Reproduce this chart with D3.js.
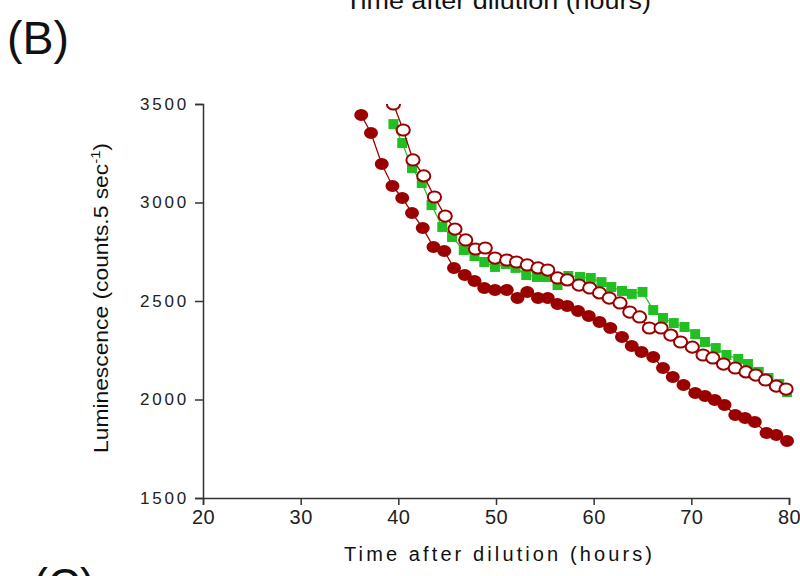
<!DOCTYPE html>
<html>
<head>
    <title>Luminescence after dilution</title>
    <style>
        body {
            margin: 0;
            background-color: white;
            font-family: "Liberation Sans", Arial, sans-serif;
        }
        .axis path, .axis line {
            stroke: #333;
            stroke-width: 1.5px;
        }
        .axis text {
            fill: #222;
            font-family: "Liberation Sans", Arial, sans-serif;
        }
    </style>
</head>
<body>
    <div id="chart"></div>

    <script src="https://cdnjs.cloudflare.com/ajax/libs/d3/7.8.5/d3.min.js"></script>
    <script>
        // Filled dark red circles
        const filledHours = [36.2, 37.2, 38.3, 39.4, 40.4, 41.4, 42.5, 43.6, 44.7, 45.7,
            46.8, 47.8, 48.8, 49.9, 51.1, 52.2, 53.2, 54.3, 55.3, 56.3,
            57.3, 58.4, 59.5, 60.6, 61.7, 62.9, 63.9, 64.9, 66.1, 67.1,
            68.1, 69.2, 70.4, 71.4, 72.4, 73.4, 74.5, 75.5, 76.5, 77.7,
            78.7, 79.8];
        const filledValues = [3444, 3353, 3195, 3084, 3023, 2947, 2871, 2774, 2754, 2667,
            2632, 2601, 2566, 2556, 2556, 2515, 2546, 2515, 2515, 2485,
            2475, 2449, 2424, 2393, 2363, 2317, 2272, 2241, 2216, 2160,
            2114, 2074, 2033, 2018, 1997, 1972, 1921, 1906, 1886, 1830,
            1820, 1789];

        // Green squares
        const squareHours = [39.5, 40.4, 41.4, 42.4, 43.4, 44.5, 45.5, 46.7, 47.8, 48.8,
            49.9, 51.0, 52.0, 53.1, 54.2, 55.2, 56.3, 57.4, 58.6, 59.7,
            60.8, 61.8, 62.9, 63.9, 65.0, 66.1, 67.1, 68.2, 69.3, 70.4,
            71.4, 72.5, 73.6, 74.8, 75.8, 76.9, 77.9, 79.0, 79.8];
        const squareValues = [3398, 3302, 3175, 3099, 2987, 2876, 2825, 2759, 2728, 2698,
            2673, 2688, 2668, 2632, 2622, 2622, 2581, 2627, 2622, 2617,
            2596, 2571, 2551, 2536, 2546, 2454, 2414, 2388, 2368, 2332,
            2292, 2261, 2226, 2206, 2180, 2140, 2109, 2079, 2038];

        // Open circles
        const openHours = [39.5, 40.5, 41.5, 42.6, 43.7, 44.8, 45.8, 46.9, 47.9, 48.9,
            49.9, 51.1, 52.1, 53.2, 54.3, 55.3, 56.3, 57.3, 58.5, 59.6,
            60.6, 61.6, 62.7, 63.7, 64.7, 65.7, 66.9, 67.9, 68.9, 70.1,
            71.2, 72.2, 73.3, 74.5, 75.6, 76.6, 77.6, 78.7, 79.7];
        const openValues = [3500, 3368, 3216, 3135, 3028, 2931, 2865, 2810, 2764, 2769,
            2718, 2708, 2698, 2683, 2668, 2657, 2617, 2607, 2581, 2566,
            2541, 2515, 2490, 2444, 2419, 2363, 2363, 2327, 2292, 2266,
            2226, 2211, 2180, 2160, 2140, 2124, 2099, 2068, 2053];

        const xTicks = [20, 30, 40, 50, 60, 70, 80];
        const yTicks = [1500, 2000, 2500, 3000, 3500];

        const darkRed = '#9a0000';
        const green = '#22bf22';

        const width = 800, height = 576;
        const plot = {left: 203, right: 789, top: 104, bottom: 498};

        const svg = d3.select('#chart')
            .append('svg')
            .attr('width', width)
            .attr('height', height);

        const x = d3.scaleLinear().domain([20, 80]).range([plot.left, plot.right]);
        const y = d3.scaleLinear().domain([1500, 3500]).range([plot.bottom, plot.top]);

        svg.append('clipPath')
            .attr('id', 'clip')
            .append('rect')
            .attr('x', plot.left)
            .attr('y', plot.top)
            .attr('width', plot.right - plot.left + 8)
            .attr('height', plot.bottom - plot.top);

        // Axes
        svg.append('g')
            .attr('class', 'axis')
            .attr('transform', `translate(0,${plot.bottom})`)
            .call(d3.axisBottom(x).tickValues(xTicks).tickSizeOuter(0).tickSize(7).tickPadding(5))
            .selectAll('text')
            .style('font-size', '20px')
            .style('letter-spacing', '0.5px');

        svg.append('g')
            .attr('class', 'axis')
            .attr('transform', `translate(${plot.left},0)`)
            .call(d3.axisLeft(y).tickValues(yTicks).tickSizeOuter(0).tickSize(8).tickPadding(6).tickFormat(d3.format('d')))
            .selectAll('text')
            .style('font-size', '17px')
            .style('letter-spacing', '2.8px');

        // Series
        const series = svg.append('g').attr('clip-path', 'url(#clip)');

        function pairs(hs, vs) {
            return hs.map((h, i) => ({h: h, v: vs[i]}));
        }
        const line = d3.line().x(d => x(d.h)).y(d => y(d.v));

        const filled = pairs(filledHours, filledValues);
        const squares = pairs(squareHours, squareValues);
        const open = pairs(openHours, openValues);

        series.append('path').datum(filled)
            .attr('d', line).attr('fill', 'none')
            .attr('stroke', darkRed).attr('stroke-width', 1.3);

        series.selectAll('.filled').data(filled).enter()
            .append('ellipse')
            .attr('class', 'filled')
            .attr('cx', d => x(d.h)).attr('cy', d => y(d.v))
            .attr('rx', 7).attr('ry', 6)
            .attr('fill', darkRed);

        series.append('path').datum(squares)
            .attr('d', line).attr('fill', 'none')
            .attr('stroke', green).attr('stroke-width', 1.2);

        series.selectAll('.square').data(squares).enter()
            .append('rect')
            .attr('class', 'square')
            .attr('x', d => x(d.h) - 5).attr('y', d => y(d.v) - 5)
            .attr('width', 10).attr('height', 10)
            .attr('fill', green);

        series.append('path').datum(open)
            .attr('d', line).attr('fill', 'none')
            .attr('stroke', darkRed).attr('stroke-width', 1.3);

        series.selectAll('.open').data(open).enter()
            .append('ellipse')
            .attr('class', 'open')
            .attr('cx', d => x(d.h)).attr('cy', d => y(d.v))
            .attr('rx', 6.6).attr('ry', 5.6)
            .attr('fill', 'white')
            .attr('stroke', darkRed).attr('stroke-width', 2);

        // Texts
        svg.append('text')
            .attr('x', 498).attr('y', 9)
            .attr('text-anchor', 'middle')
            .attr('textLength', 306).attr('lengthAdjust', 'spacingAndGlyphs')
            .style('font-size', '23px').style('fill', '#111')
            .text('Time after dilution (hours)');

        svg.append('text')
            .attr('x', 7).attr('y', 54)
            .attr('textLength', 62).attr('lengthAdjust', 'spacingAndGlyphs')
            .style('font-size', '46px').style('fill', '#111')
            .text('(B)');

        svg.append('text')
            .attr('x', 33).attr('y', 601)
            .attr('textLength', 62).attr('lengthAdjust', 'spacingAndGlyphs')
            .style('font-size', '46px').style('fill', '#111')
            .text('(C)');

        svg.append('text')
            .attr('x', 498).attr('y', 561)
            .attr('text-anchor', 'middle')
            .attr('textLength', 308).attr('lengthAdjust', 'spacing')
            .style('font-size', '20px').style('fill', '#111')
            .text('Time after dilution (hours)');

        const yLabel = svg.append('text')
            .attr('transform', 'translate(108,298) rotate(-90)')
            .attr('text-anchor', 'middle')
            .attr('textLength', 310).attr('lengthAdjust', 'spacingAndGlyphs')
            .style('font-size', '20px').style('fill', '#111');
        yLabel.append('tspan').text('Luminescence (counts.5 sec');
        yLabel.append('tspan').attr('dy', -8).style('font-size', '13px').text('-1');
        yLabel.append('tspan').attr('dy', 8).text(')');
    </script>
</body>
</html>
